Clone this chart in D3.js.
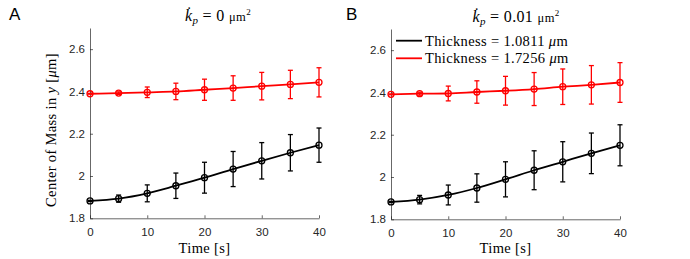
<!DOCTYPE html>
<head>
  <meta charset="utf-8">
  <script src="https://cdn.jsdelivr.net/npm/d3@7"></script>
  <style>
    body { margin: 0; background: white; }
    .tick text { font-family: "Liberation Sans", Arial, sans-serif; font-size: 11.5px; fill: #262626; }
    .serif { font-family: "Liberation Serif", "DejaVu Serif", serif; fill: #000; letter-spacing: 0.35px; }
  </style>
</head>

<body>
  <script>
const W = 690;
const H = 259;

// data
const times = [0, 5, 10, 15, 20, 25, 30, 35, 40];
const xTicks = [0, 10, 20, 30, 40];
const yTicks = [1.8, 2, 2.2, 2.4, 2.6];

// panel A: k_p = 0
const thinA = [1.882, 1.893, 1.918, 1.954, 1.992, 2.033, 2.072, 2.110, 2.146];
const thinAErr = [0.003, 0.017, 0.040, 0.060, 0.073, 0.083, 0.086, 0.086, 0.081];
const thickA = [2.389, 2.392, 2.396, 2.400, 2.408, 2.416, 2.425, 2.433, 2.443];
const thickAErr = [0.002, 0.006, 0.025, 0.039, 0.050, 0.058, 0.065, 0.067, 0.069];

// panel B: k_p = 0.01
const thinB = [1.882, 1.893, 1.915, 1.948, 1.989, 2.032, 2.072, 2.112, 2.150];
const thinBErr = [0.003, 0.020, 0.047, 0.067, 0.083, 0.092, 0.095, 0.096, 0.097];
const thickB = [2.391, 2.394, 2.395, 2.402, 2.408, 2.416, 2.427, 2.436, 2.447];
const thickBErr = [0.002, 0.007, 0.035, 0.053, 0.068, 0.078, 0.084, 0.091, 0.094];

const legendLabels = ["1.0811", "1.7256"];
const colors = ["#000000", "#ff0000"];

var svg = d3.select("body").append("svg")
  .attr("width", W)
  .attr("height", H);

/**
 * one panel
 */
function panel(opt)
{
  var x = d3.scaleLinear().domain([0, 40]).range([opt.x0, opt.x1]);
  var y = d3.scaleLinear().domain([1.8, 2.7]).range([opt.y1, opt.y0]);

  var g = svg.append("g");

  g.append("g")
    .attr("transform", "translate(0," + opt.y1 + ")")
    .call(d3.axisBottom(x).tickValues(xTicks).tickSizeInner(-3).tickSizeOuter(0).tickPadding(10))
    .call(a => a.selectAll("path,line").attr("stroke", "#262626").attr("stroke-width", 0.7));

  g.append("g")
    .attr("transform", "translate(" + opt.x0 + ",0)")
    .call(d3.axisLeft(y).tickValues(yTicks).tickFormat(d3.format("")).tickSizeInner(-3).tickSizeOuter(0).tickPadding(5))
    .call(a => a.selectAll("path,line").attr("stroke", "#262626").attr("stroke-width", 0.7));

  var line = d3.line()
    .x((d, i) => x(times[i]))
    .y(d => y(d))
    .curve(d3.curveMonotoneX);

  opt.series.forEach((s, k) => {
    var c = colors[k];
    var sg = g.append("g");
    sg.append("path")
      .attr("d", line(s.v))
      .attr("fill", "none")
      .attr("stroke", c)
      .attr("stroke-width", 1.8);
    s.v.forEach((v, i) => {
      var cx = x(times[i]);
      var lo = y(v - s.e[i]), hi = y(v + s.e[i]);
      sg.append("line").attr("x1", cx).attr("x2", cx).attr("y1", lo).attr("y2", hi)
        .attr("stroke", c).attr("stroke-width", 1.3);
      [lo, hi].forEach(yy => sg.append("line")
        .attr("x1", cx - 2.5).attr("x2", cx + 2.5).attr("y1", yy).attr("y2", yy)
        .attr("stroke", c).attr("stroke-width", 1.3));
      sg.append("circle").attr("cx", cx).attr("cy", y(v)).attr("r", 3)
        .attr("fill", "none").attr("stroke", c).attr("stroke-width", 1.3);
    });
  });

  // title
  var t = g.append("text").attr("class", "serif")
    .attr("x", opt.tx).attr("y", opt.ty)
    .attr("text-anchor", "middle")
    .style("font-size", "16px");
  t.append("tspan").style("font-style", "italic").text("k\u0307");
  t.append("tspan").style("font-style", "italic").style("font-size", "11px").attr("dy", 3).text("p");
  t.append("tspan").attr("dy", -3).text(" = " + opt.kp + " ");
  t.append("tspan").style("font-size", "12.5px").text("\u03bcm");
  t.append("tspan").style("font-size", "9px").attr("dy", -6).text("2");

  // panel letter
  svg.append("text")
    .attr("x", opt.lx).attr("y", 20)
    .style("font-family", "Liberation Sans, Arial, sans-serif")
    .style("font-size", "17px")
    .text(opt.letter);

  return {x: x, y: y, g: g};
}

var A = panel({
  x0: 90, x1: 319, y0: 28, y1: 218.3,
  tx: 218, ty: 21, kp: "0", letter: "A", lx: 9,
  series: [{v: thinA, e: thinAErr}, {v: thickA, e: thickAErr}]
});

var B = panel({
  x0: 391, x1: 620, y0: 29, y1: 219.3,
  tx: 516, ty: 22, kp: "0.01", letter: "B", lx: 346,
  series: [{v: thinB, e: thinBErr}, {v: thickB, e: thickBErr}]
});

// x labels
[[204.5, 253], [505.5, 253]].forEach(p => {
  svg.append("text").attr("class", "serif")
    .attr("x", p[0]).attr("y", p[1])
    .attr("text-anchor", "middle")
    .style("font-size", "14.5px")
    .text("Time [s]");
});

// y label
var yl = svg.append("text").attr("class", "serif")
  .attr("transform", "translate(56,130) rotate(-90)")
  .attr("text-anchor", "middle")
  .style("font-size", "14.5px");
yl.append("tspan").text("Center of Mass in ");
yl.append("tspan").style("font-style", "italic").text("y");
yl.append("tspan").text(" [");
yl.append("tspan").style("font-style", "italic").text("\u03bc");
yl.append("tspan").text("m]");

// legend (panel B)
var lg = svg.append("g");
legendLabels.forEach((lab, i) => {
  var yy = 40.7 + i * 17.6;
  lg.append("line").attr("x1", 396).attr("x2", 422).attr("y1", yy).attr("y2", yy)
    .attr("stroke", colors[i]).attr("stroke-width", 1.8);
  var tx = lg.append("text").attr("class", "serif")
    .attr("x", 425).attr("y", yy + 4.8)
    .style("font-size", "14.5px");
  tx.append("tspan").text("Thickness = " + lab + " ");
  tx.append("tspan").style("font-style", "italic").text("\u03bc");
  tx.append("tspan").text("m");
});
  </script>
</body>
